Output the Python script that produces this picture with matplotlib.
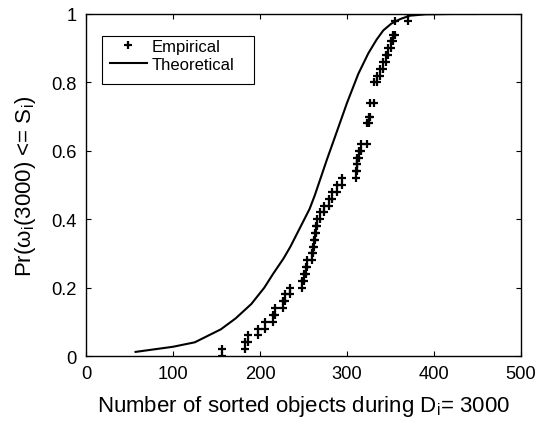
import numpy as np
import matplotlib
matplotlib.use("Agg")
import matplotlib.pyplot as plt
from matplotlib.patches import Rectangle

plt.rcParams['font.family'] = ['Liberation Sans', 'DejaVu Sans']
plt.rcParams['mathtext.fontset'] = 'custom'
plt.rcParams['mathtext.rm'] = 'Liberation Sans'

# Sorted sample of the number of sorted objects (50 runs, ties included)
empirical_samples = [
    156, 183, 186, 198, 206, 215, 217, 227, 229, 234.5,
    248, 250, 252.5, 253.6, 259.4, 261, 262, 263, 264, 265,
    269, 273, 279, 283, 289, 294.5, 310, 311, 312, 314,
    316.5, 322.6, 322.6, 322.6, 325.5, 326.5, 326.5, 331.5, 331.5, 331.5,
    334.5, 338, 341.2, 344.8, 347, 350, 353, 355, 355, 370,
]

# Theoretical distribution function
theory_x = [57, 100, 125, 155, 172, 190, 205, 215, 227, 235, 257, 263,
            277, 284, 300, 313, 324.5, 334, 341.7, 351, 361, 372, 390, 420, 450]
theory_y = [0.012, 0.027, 0.04, 0.078, 0.11, 0.152, 0.20, 0.24, 0.285, 0.32,
            0.43, 0.47, 0.575, 0.625, 0.74, 0.825, 0.885, 0.925, 0.952, 0.972,
            0.985, 0.995, 0.999, 1.0, 1.0]

x_ticks = [0, 100, 200, 300, 400, 500]
y_ticks = [0, 0.2, 0.4, 0.6, 0.8, 1]
y_tick_labels = ['0', '0.2', '0.4', '0.6', '0.8', '1']

# Staircase vertices of the empirical CDF (tied values jump several steps)
xs = np.sort(np.asarray(empirical_samples, dtype=float))
n = len(xs)
uniq, counts = np.unique(xs, return_counts=True)
cdf = np.cumsum(counts) / n
cdf_prev = np.concatenate([[0.0], cdf[:-1]])
stair_x = np.repeat(uniq, 2)
stair_y = np.empty(2 * len(uniq))
stair_y[0::2] = cdf_prev
stair_y[1::2] = cdf

W, H = 538, 427
fig = plt.figure(figsize=(W / 100, H / 100), dpi=100)
ax_left, ax_right, ax_top, ax_bottom = 86, 521, 15, 357
ax = fig.add_axes([ax_left / W, 1 - ax_bottom / H,
                   (ax_right - ax_left) / W, (ax_bottom - ax_top) / H])

ax.plot(stair_x, stair_y, linestyle='none', marker='+', color='black',
        markersize=6, markeredgewidth=1.6, label='Empirical')
ax.plot(theory_x, theory_y, color='black', linewidth=1.5, label='Theoretical')

ax.set_xlim(0, 500)
ax.set_ylim(0, 1)
ax.set_xticks(x_ticks)
ax.set_yticks(y_ticks)
ax.set_yticklabels(y_tick_labels)
ax.tick_params(direction='in', top=True, right=True, length=3.5, width=0.8,
               labelsize=13.2, pad=6.5)
for s in ax.spines.values():
    s.set_linewidth(1.0)

ax.set_xlabel('Number of sorted objects during D$_\\mathregular{i}$= 3000',
              fontsize=16, labelpad=8)
ax.set_ylabel('Pr(\u03c9$_\\mathregular{i}$(3000) <= S$_\\mathregular{i}$)',
              fontsize=16, labelpad=10)

# Legend entries, with a plain box around them
ax_w, ax_h = ax_right - ax_left, ax_bottom - ax_top
leg = ax.legend(loc='upper left',
                bbox_to_anchor=((110 - ax_left) / ax_w, 1 - (40 - ax_top) / ax_h),
                fontsize=12, frameon=False, handlelength=2.2,
                handletextpad=0.3, borderpad=0, labelspacing=0.16,
                borderaxespad=0)
box_l, box_r, box_t, box_b = 102, 254, 36.7, 85
ax.add_patch(Rectangle(((box_l - ax_left) / ax_w, 1 - (box_b - ax_top) / ax_h),
                       (box_r - box_l) / ax_w, (box_b - box_t) / ax_h,
                       transform=ax.transAxes, facecolor='white',
                       edgecolor='black', linewidth=0.8, zorder=4))
leg.set_zorder(5)

fig.savefig('out.png', dpi=100)
